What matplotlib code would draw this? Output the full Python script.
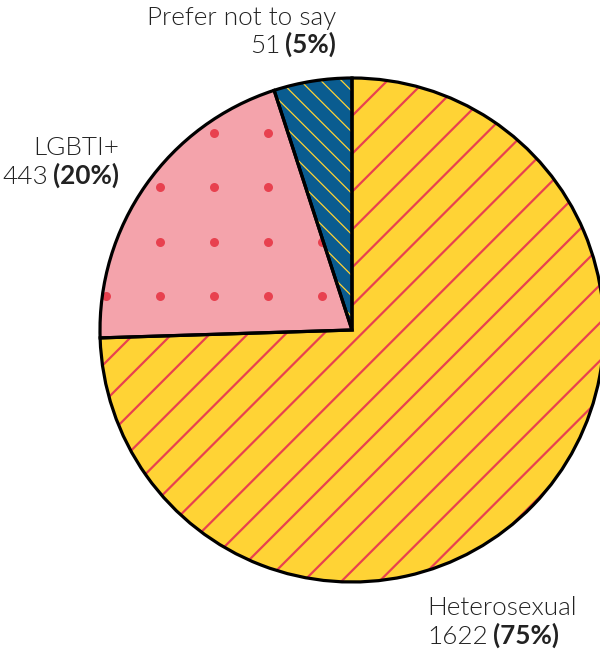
import numpy as np
import matplotlib
matplotlib.use("Agg")
from matplotlib import pyplot as plt
from matplotlib.patches import Wedge
from matplotlib.collections import LineCollection

# data
categories = ["Heterosexual", "LGBTI+", "Prefer not to say"]
counts = [1622, 443, 51]
pct_labels = ["75%", "20%", "5%"]
shares = [74.5, 20.5, 5.0]  # slice sizes as drawn

face_cols = ["#FFD335", "#F4A3AB", "#0A5C90"]
text_col = "#222222"
red = "#E8414F"

plt.rcParams['font.family'] = ['Lato', 'DejaVu Sans']

fig = plt.figure(figsize=(6, 6.52), dpi=100)
ax = fig.add_axes([0, 0, 1, 1])

H = 652
cx, cy, R = 352, H - 330, 252

wedges, _ = ax.pie(shares, startangle=90, counterclock=False, center=(cx, cy),
                   radius=R, colors=face_cols, frame=False,
                   wedgeprops=dict(edgecolor="none", linewidth=0))
ax.set_xlim(0, 600)
ax.set_ylim(0, H)
ax.set_aspect("equal")
ax.axis("off")

xs = np.array([-200, 900])

# heterosexual: red "/" lines
segs = []
for k in range(-20, 30):
    c = 581.7 + 37.9 * k
    b = H - c
    segs.append(list(zip(xs, xs + b)))
lc = LineCollection(segs, colors=red, linewidths=1.6, zorder=2)
ax.add_collection(lc)
lc.set_clip_path(wedges[0])

# prefer not to say: yellow "\" lines
segs = []
for k in range(-40, 40):
    d = 158.3 + 20.5 * k
    segs.append(list(zip(xs, -xs + H + d)))
lc2 = LineCollection(segs, colors="#FFD335", linewidths=0.9, zorder=2)
ax.add_collection(lc2)
lc2.set_clip_path(wedges[2])

# lgbti: dot grid
gx, gy = np.meshgrid(106 + 54 * np.arange(-1, 8), 296 - 54.3 * np.arange(-3, 6))
dots = ax.scatter(gx.ravel(), H - gy.ravel(), s=42, color=red, lw=0, zorder=2)
dots.set_clip_path(wedges[1])

# outlines on top
for w in wedges:
    ax.add_patch(Wedge(w.center, w.r, w.theta1, w.theta2, fill=False,
                       edgecolor="black", linewidth=2.3, zorder=3,
                       joinstyle="miter"))

fig.canvas.draw()
rend = fig.canvas.get_renderer()
fs = 18.8
lw_txt = 300


def two_part(x, y, count, pct, ha):
    if ha == "right":
        tb = ax.text(x, y, "(" + pct + ")", ha="right", va="baseline",
                     fontsize=fs, fontweight="bold", color=text_col)
        bb = tb.get_window_extent(rend)
        ax.text(bb.x0 - 5, y, count, ha="right", va="baseline",
                fontsize=fs, fontweight=lw_txt, color=text_col)
    else:
        tn = ax.text(x, y, count, ha="left", va="baseline",
                     fontsize=fs, fontweight=lw_txt, color=text_col)
        bb = tn.get_window_extent(rend)
        ax.text(bb.x1 + 5, y, "(" + pct + ")", ha="left", va="baseline",
                fontsize=fs, fontweight="bold", color=text_col)


# label positions (px from top)
ax.text(336, H - 25, categories[2], ha="right", va="baseline", fontsize=fs,
        fontweight=lw_txt, color=text_col)
two_part(336, H - 53, str(counts[2]), pct_labels[2], "right")

ax.text(119, H - 155, categories[1], ha="right", va="baseline", fontsize=fs,
        fontweight=lw_txt, color=text_col)
two_part(119, H - 184, str(counts[1]), pct_labels[1], "right")

ax.text(427, H - 615, categories[0], ha="left", va="baseline", fontsize=fs,
        fontweight=lw_txt, color=text_col)
two_part(427, H - 644, str(counts[0]), pct_labels[0], "left")

fig.savefig("out.png", dpi=100)
